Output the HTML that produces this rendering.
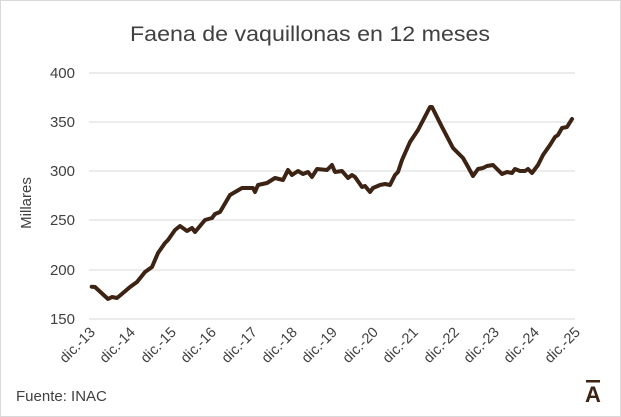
<!DOCTYPE html>
<html><head><meta charset="utf-8"><style>
html,body{margin:0;padding:0;background:#fff;}
svg{display:block;font-family:"Liberation Sans",sans-serif;}
</style></head><body>
<svg width="621" height="417" viewBox="0 0 621 417">
<rect x="0.5" y="0.5" width="620" height="416" fill="#fff" stroke="#d9d9d9"/>
<text x="310" y="41" text-anchor="middle" font-size="21" fill="#404040" textLength="360" lengthAdjust="spacingAndGlyphs">Faena de vaquillonas en 12 meses</text>
<g stroke="#d9d9d9" stroke-width="1">
<line x1="89" x2="575" y1="73" y2="73"/><line x1="89" x2="575" y1="122" y2="122"/>
<line x1="89" x2="575" y1="171" y2="171"/><line x1="89" x2="575" y1="220" y2="220"/>
<line x1="89" x2="575" y1="270" y2="270"/><line x1="89" x2="575" y1="319" y2="319"/>
</g>
<g font-size="15" fill="#404040" text-anchor="end">
<text x="75" y="78">400</text><text x="75" y="127">350</text><text x="75" y="176">300</text>
<text x="75" y="225">250</text><text x="75" y="275">200</text><text x="75" y="324">150</text>
</g>
<text transform="translate(31,203) rotate(-90)" text-anchor="middle" font-size="15" fill="#404040">Millares</text>
<g font-size="14.5" fill="#404040" text-anchor="end">
<text transform="translate(96,333) rotate(-45)">dic.-13</text>
<text transform="translate(136,333) rotate(-45)">dic.-14</text>
<text transform="translate(177,333) rotate(-45)">dic.-15</text>
<text transform="translate(217,333) rotate(-45)">dic.-16</text>
<text transform="translate(258,333) rotate(-45)">dic.-17</text>
<text transform="translate(298,333) rotate(-45)">dic.-18</text>
<text transform="translate(338,333) rotate(-45)">dic.-19</text>
<text transform="translate(379,333) rotate(-45)">dic.-20</text>
<text transform="translate(419,333) rotate(-45)">dic.-21</text>
<text transform="translate(460,333) rotate(-45)">dic.-22</text>
<text transform="translate(500,333) rotate(-45)">dic.-23</text>
<text transform="translate(540,333) rotate(-45)">dic.-24</text>
<text transform="translate(581,333) rotate(-45)">dic.-25</text>
</g>
<text x="16" y="401" font-size="15" fill="#404040">Fuente: INAC</text>
<text x="593" y="402" font-size="22" font-weight="bold" fill="#3d2314" text-anchor="middle">A</text>
<rect x="586" y="380" width="14" height="2.5" fill="#3d2314"/>
<polyline fill="none" stroke="#3d2314" stroke-width="4" stroke-linejoin="round" stroke-linecap="round" points="
91.7,286.7 95,287 108,299 112,297 117,298 123,293 130,287 137,282 145,272 152,267 158,253 165,243 168,240 175,230 180,226 187,231 192,228 195,232 205,220 212,218 215,214 220,212 230,195 242,188 253,188 255,192 258,185 267,183 275,178 283,180 288,170 292,175 298,171 303,174 308,172 312,177 317,169 327,170 332,165 335,172 342,171 348,178 352,175 355,177 362,187 365,186 370,192 373,188 380,185 385,184 390,185 395,175 398,172 402,160 410,142 418,130 430,107 432,107 442,127 453,148 458,153 463,158 467,165 473,176 478,169 483,168 487,166 493,165 502,174 507,172 512,173 515,169 520,171 525,171 528,169 532,173 538,165 543,155 550,145 555,137 558,135 562,128 567,127 572,119"/>
</svg>
</body></html>
